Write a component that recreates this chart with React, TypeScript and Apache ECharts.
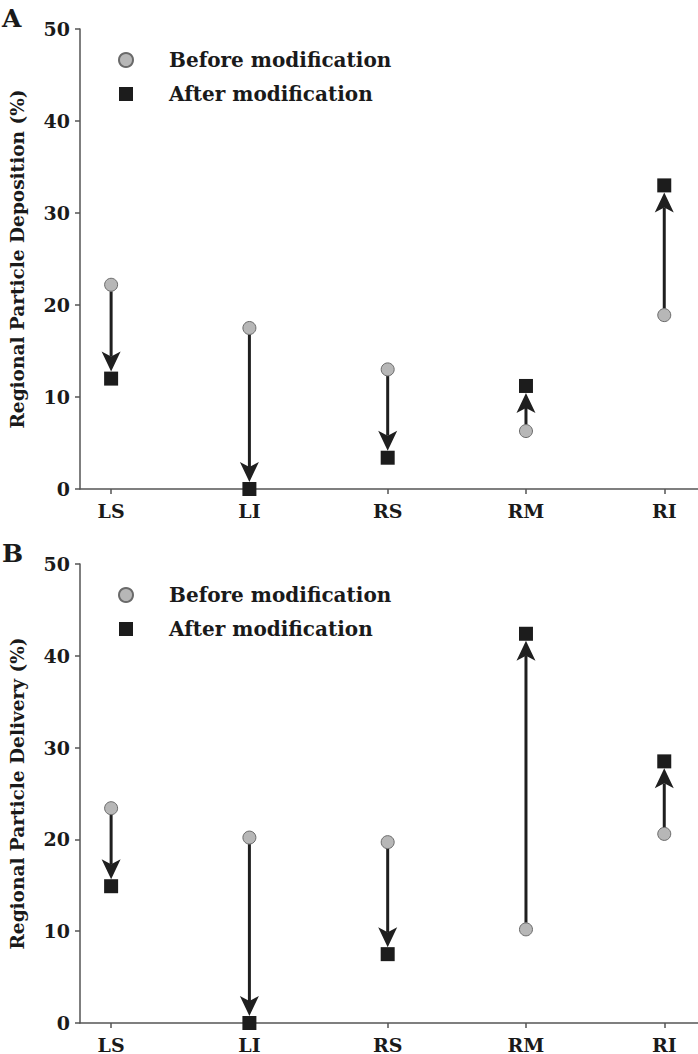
import React, { useEffect, useRef } from "react";
import * as echarts from "echarts";

const categories = ["LS", "LI", "RS", "RM", "RI"];
const xPositions = [1, 2, 3, 4, 5];
const depositionBefore = [22.2, 17.5, 13.0, 6.3, 18.9];
const depositionAfter = [12.0, 0, 3.4, 11.2, 33.0];
const deliveryBefore = [23.4, 20.2, 19.7, 10.2, 20.6];
const deliveryAfter = [14.9, 0, 7.5, 42.4, 28.5];
const yTicks = [0, 10, 20, 30, 40, 50];

const FONT = "DejaVu Serif";
const TEXT = "#1a1a1a";
const AXIS = "#555555";
const CIRCLE_FILL = "#b7b7b7";
const CIRCLE_STROKE = "#6a6a6a";
const SQUARE = "#1c1c1c";
const ARROW = "#1f1f1f";

function arrowRender(params: any, api: any) {
  const x = api.value(0);
  const p1 = api.coord([x, api.value(1)]);
  const p2 = api.coord([x, api.value(2)]);
  const d = p2[1] > p1[1] ? 1 : -1;
  const startY = p1[1] + d * 6.5;
  const tipY = p2[1] - d * 7;
  const headLen = 20;
  const half = 9.5;
  const notch = 5;
  const cx = p1[0];
  return {
    type: "group",
    children: [
      {
        type: "line",
        shape: { x1: cx, y1: startY, x2: cx, y2: tipY - d * (headLen - notch) },
        style: { stroke: ARROW, lineWidth: 3 },
      },
      {
        type: "polygon",
        shape: {
          points: [
            [cx, tipY],
            [cx - half, tipY - d * headLen],
            [cx, tipY - d * (headLen - notch)],
            [cx + half, tipY - d * headLen],
          ],
        },
        style: { fill: ARROW },
      },
    ],
  };
}

export default function App() {
  const ref = useRef<HTMLDivElement>(null);

  useEffect(() => {
    document.body.style.margin = "0";
    if (!ref.current) return;
    const chart = echarts.init(ref.current, null, { renderer: "svg" });

    const xMin = 0.775;
    const xMax = 5.244;

    const makeX = (gridIndex: number) => ({
      type: "value",
      gridIndex,
      min: xMin,
      max: xMax,
      axisLine: { show: true, lineStyle: { color: AXIS, width: 1.5 } },
      axisTick: { show: true, customValues: xPositions, length: 5, lineStyle: { color: AXIS, width: 1.5 } },
      axisLabel: {
        customValues: xPositions,
        formatter: (v: number) => categories[Math.round(v) - 1] ?? "",
        fontFamily: FONT,
        fontWeight: "bold",
        fontSize: 19,
        color: TEXT,
        margin: 12,
      },
      splitLine: { show: false },
    });

    const makeY = (gridIndex: number, name: string) => ({
      type: "value",
      gridIndex,
      min: 0,
      max: 50,
      interval: 10,
      name,
      nameLocation: "middle",
      nameGap: 53,
      nameRotate: 90,
      nameTextStyle: { fontFamily: FONT, fontWeight: "bold", fontSize: 18.5, color: TEXT },
      axisLine: { show: true, lineStyle: { color: AXIS, width: 1.5 } },
      axisTick: { show: true, length: 5, lineStyle: { color: AXIS, width: 1.5 } },
      axisLabel: {
        fontFamily: FONT,
        fontWeight: "bold",
        fontSize: 19,
        color: TEXT,
        margin: 10,
        customValues: yTicks,
      },
      splitLine: { show: false },
    });

    const scatterBefore = (idx: number, vals: number[]) => ({
      name: "Before modification",
      type: "scatter",
      xAxisIndex: idx,
      yAxisIndex: idx,
      symbol: "circle",
      symbolSize: 13,
      z: 5,
      itemStyle: { color: CIRCLE_FILL, borderColor: CIRCLE_STROKE, borderWidth: 1, opacity: 1 },
      data: xPositions.map((x, i) => [x, vals[i]]),
    });
    const scatterAfter = (idx: number, vals: number[]) => ({
      name: "After modification",
      type: "scatter",
      xAxisIndex: idx,
      yAxisIndex: idx,
      symbol: "rect",
      symbolSize: 14,
      z: 5,
      itemStyle: { color: SQUARE, opacity: 1 },
      data: xPositions.map((x, i) => [x, vals[i]]),
    });
    const arrows = (idx: number, b: number[], a: number[]) => ({
      type: "custom",
      xAxisIndex: idx,
      yAxisIndex: idx,
      z: 3,
      renderItem: arrowRender,
      encode: { x: 0, y: [1, 2] },
      data: xPositions.map((x, i) => [x, b[i], a[i]]),
      silent: true,
    });

    const legend = (top: number) => ({
      orient: "vertical",
      left: 113,
      top,
      itemWidth: 14,
      itemHeight: 14,
      itemGap: 14,
      data: ["Before modification", "After modification"],
      itemStyle: { opacity: 1 },
      textStyle: { fontFamily: FONT, fontWeight: "bold", fontSize: 20, color: TEXT, padding: [0, 0, 0, 31] },
    });

    chart.setOption({
      animation: false,
      backgroundColor: "#ffffff",
      textStyle: { fontFamily: FONT },
      grid: [
        { left: 79, top: 29, width: 619, height: 460 },
        { left: 79, top: 564, width: 619, height: 460 },
      ],
      xAxis: [makeX(0), makeX(1)],
      yAxis: [makeY(0, "Regional Particle Deposition (%)"), makeY(1, "Regional Particle Delivery (%)")],
      legend: [legend(45), legend(580)],
      series: [
        arrows(0, depositionBefore, depositionAfter),
        scatterBefore(0, depositionBefore),
        scatterAfter(0, depositionAfter),
        arrows(1, deliveryBefore, deliveryAfter),
        scatterBefore(1, deliveryBefore),
        scatterAfter(1, deliveryAfter),
      ],
      graphic: [
        { type: "text", left: 2, top: 6, style: { text: "A", fontFamily: FONT, fontWeight: "bold", fontSize: 25, fill: TEXT } },
        { type: "text", left: 2, top: 541, style: { text: "B", fontFamily: FONT, fontWeight: "bold", fontSize: 25, fill: TEXT } },
      ],
    });

    return () => chart.dispose();
  }, []);

  return <div ref={ref} style={{ width: 698, height: 1054 }} />;
}
